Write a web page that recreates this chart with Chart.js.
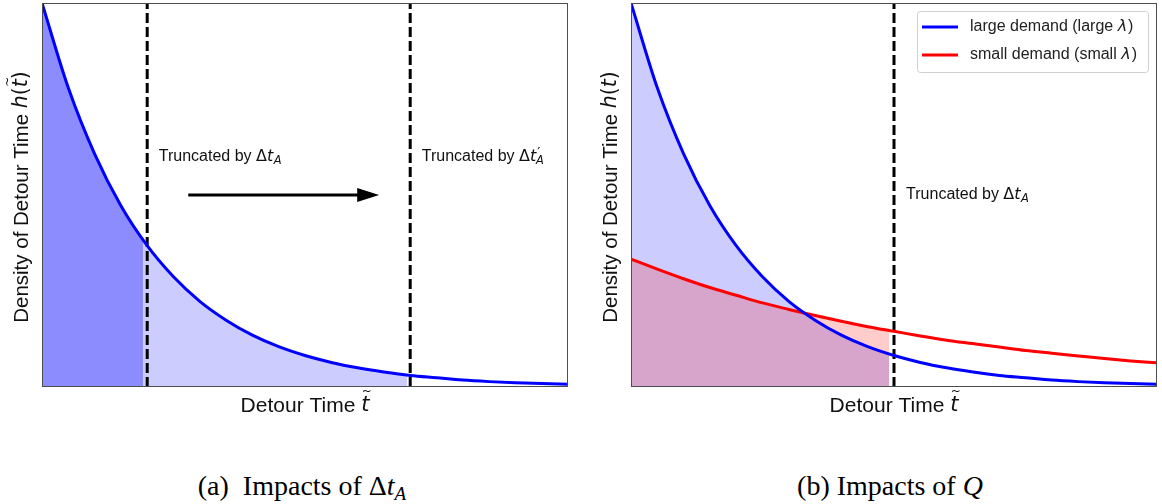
<!DOCTYPE html>
<html><head><meta charset="utf-8">
<script src="https://cdn.jsdelivr.net/npm/chart.js@4"></script>
<style>
html,body{margin:0;padding:0;background:#fff;width:1162px;height:504px;overflow:hidden;}
#ca{position:absolute;left:0;top:0;}
#cb{position:absolute;left:600px;top:0;}
.cap{position:absolute;top:470px;font-family:"Liberation Serif","Times New Roman",serif;font-size:28px;color:#000;white-space:nowrap;transform:translateX(-50%);}
.cap sub{font-size:19px;vertical-align:-5px;line-height:0;}
</style></head><body>
<canvas id="ca" width="600" height="420"></canvas>
<canvas id="cb" width="562" height="420"></canvas>
<div class="cap" style="left:302px">(a)&nbsp; Impacts of Δ<i>t</i><sub><i>A</i></sub></div>
<div class="cap" style="left:890px">(b) Impacts of <i>Q</i></div>
<script>
// ---- data ----
const detourTime  = [0,0.5,1,1.5,2,2.5,3,3.5,4,4.5,5,5.5,6,6.5,7,7.5,8,8.5,9,9.5,10];
const largeDemand = [1.000,0.779,0.607,0.472,0.368,0.287,0.223,0.174,0.135,0.105,0.082,0.064,0.050,0.039,0.030,0.024,0.018,0.014,0.011,0.009,0.007];
const smallDemand = [0.333,0.307,0.282,0.259,0.239,0.219,0.202,0.186,0.171,0.157,0.145,0.133,0.122,0.113,0.104,0.095,0.088,0.081,0.074,0.068,0.063];
const seriesLabels = ["large demand (large λ)", "small demand (small λ)"];
// truncation thresholds (dashed lines) and where the shading stops
const truncA = 2.0, truncA2 = 7.0, truncB = 5.0;
const shadeA = [1.92, 0.383];     // [x, large-demand value]
const shadeA2 = [6.94, 0.031];
const shadeBLarge = [4.91, 0.085];
const shadeBSmall = [4.91, 0.146];
const arrowFrom = [2.78, 0.5], arrowTo = [6.41, 0.5];
const noteA  = [2.22, 0.60], noteA2 = [7.22, 0.60], noteB = [5.23, 0.50];

function pts(xs, ys){ return xs.map((x,i)=>({x:x, y:ys[i]})); }
function segment(xs, ys, start, end){
  const out = [];
  if (start) out.push({x:start[0], y:start[1]});
  xs.forEach((x,i)=>{ if ((!start || x>start[0]) && (!end || x<end[0])) out.push({x:x,y:ys[i]}); });
  if (end) out.push({x:end[0], y:end[1]});
  return out;
}
function vline(x){ return [{x:x,y:0},{x:x,y:1}]; }

const SANS = '"Liberation Sans", Arial, sans-serif';
const MATH = '"DejaVu Sans", sans-serif';

function richWidth(ctx, parts){
  let w = 0;
  parts.forEach(p=>{ ctx.font = p.f; w += ctx.measureText(p.t).width + (p.dx||0); });
  return w;
}
function drawRich(ctx, parts, x, y, align){
  let cx = x;
  if (align === 'center') cx = x - richWidth(ctx, parts)/2;
  parts.forEach(p=>{
    ctx.font = p.f;
    ctx.fillText(p.t, cx + (p.ox||0), y + (p.dy||0));
    const w = ctx.measureText(p.t).width;
    if (p.tilde){
      ctx.font = p.tf;
      ctx.textAlign = 'center';
      ctx.fillText('~', cx + w/2 + (p.tx||0), y + p.tilde);
      ctx.textAlign = 'left';
    }
    cx += w + (p.dx||0);
  });
}
function truncParts(prime){
  const parts = [
    {t:'Truncated by ', f:'16px '+SANS},
    {t:'Δ', f:'16px '+MATH},
    {t:'t', f:'italic 16px '+MATH, dx:0.5}
  ];
  if (prime) parts.push({t:'′', f:'14px '+MATH, dy:-3, dx:-4, ox:0.5});
  parts.push({t:'A', f:'italic 11.5px '+MATH, dy:4});
  return parts;
}
const xTitle = [
  {t:'Detour Time ', f:'21px '+SANS},
  {t:'t', f:'italic 21px '+MATH, tilde:-14, tf:'12px '+MATH, tx:1.5}
];
const yTitle = [
  {t:'Density of Detour Time ', f:'20.5px '+SANS},
  {t:'h', f:'italic 20.5px '+MATH},
  {t:'(', f:'20.5px '+MATH},
  {t:'t', f:'italic 20.5px '+MATH, tilde:-14, tf:'12px '+MATH, tx:1.5},
  {t:')', f:'20.5px '+MATH}
];

function makeDecor(cfg){
  return {
    id:'decor',
    afterDatasetsDraw(chart){
      const {ctx, chartArea:a, scales:{x, y}} = chart;
      ctx.save();
      ctx.strokeStyle = '#4d4d4d'; ctx.lineWidth = 1;
      ctx.strokeRect(a.left+0.5, a.top+0.5, a.right-a.left-1, a.bottom-a.top-1);
      ctx.fillStyle = '#111';
      ctx.textBaseline = 'middle'; ctx.textAlign = 'left';
      cfg.notes.forEach(n=>{
        drawRich(ctx, truncParts(n.prime), x.getPixelForValue(n.at[0]), y.getPixelForValue(n.at[1]), 'left');
      });
      if (cfg.arrow){
        const x0 = x.getPixelForValue(cfg.arrow[0][0]), y0 = y.getPixelForValue(cfg.arrow[0][1]);
        const x1 = x.getPixelForValue(cfg.arrow[1][0]);
        ctx.strokeStyle = '#000'; ctx.fillStyle = '#000'; ctx.lineWidth = 3;
        ctx.beginPath(); ctx.moveTo(x0, y0); ctx.lineTo(x1-20, y0); ctx.stroke();
        ctx.beginPath(); ctx.moveTo(x1, y0); ctx.lineTo(x1-22, y0-7); ctx.lineTo(x1-22, y0+7); ctx.closePath(); ctx.fill();
      }
      ctx.fillStyle = '#111';
      drawRich(ctx, xTitle, (a.left+a.right)/2, a.bottom+19, 'center');
      ctx.save();
      ctx.translate(a.left-20, (a.top+a.bottom)/2+2);
      ctx.rotate(-Math.PI/2);
      drawRich(ctx, yTitle, 0, 0, 'center');
      ctx.restore();
      if (cfg.legend){
        const L = cfg.legend;
        ctx.fillStyle = 'rgba(255,255,255,0.85)';
        ctx.strokeStyle = '#d0d0d0'; ctx.lineWidth = 1;
        ctx.beginPath();
        if (ctx.roundRect) ctx.roundRect(L.x+0.5, L.y+0.5, L.w, L.h, 3); else ctx.rect(L.x+0.5, L.y+0.5, L.w, L.h);
        ctx.fill(); ctx.stroke();
        L.items.forEach((it,i)=>{
          const yy = L.y + 16 + i*28;
          ctx.strokeStyle = it.color; ctx.lineWidth = 3;
          ctx.beginPath(); ctx.moveTo(L.x+5, yy); ctx.lineTo(L.x+41, yy); ctx.stroke();
          ctx.fillStyle = '#222';
          const idx = it.label.indexOf('λ');
          drawRich(ctx, [
            {t:it.label.slice(0, idx), f:'16px '+SANS},
            {t:'λ', f:'italic 16px '+MATH, dx:1},
            {t:it.label.slice(idx+1), f:'16px '+SANS}
          ], L.x+53, yy, 'left');
        });
      }
      ctx.restore();
    }
  };
}

const lineDefaults = {pointRadius:0, cubicInterpolationMode:'monotone', fill:false};
function fillSet(data, color){
  return Object.assign({}, lineDefaults, {data, borderWidth:0, borderColor:'rgba(0,0,0,0)', backgroundColor:color, fill:'origin', order:3});
}
function dashSet(x){
  return {data:vline(x), borderColor:'#000', borderWidth:3, borderDash:[10,4], pointRadius:0, fill:false, order:1, tension:0};
}
function curveSet(ys, color, label){
  return Object.assign({}, lineDefaults, {label, data:pts(detourTime, ys), borderColor:color, borderWidth:3, order:0});
}
function baseOptions(pad){
  return {
    responsive:false, animation:false, devicePixelRatio:1,
    layout:{padding:pad},
    plugins:{legend:{display:false}, tooltip:{enabled:false}},
    scales:{
      x:{type:'linear', min:0, max:10, display:false},
      y:{type:'linear', min:0, max:1, display:false}
    }
  };
}

new Chart(document.getElementById('ca'), {
  type:'line',
  data:{datasets:[
    curveSet(largeDemand, '#0000ff', seriesLabels[0]),
    dashSet(truncA), dashSet(truncA2),
    fillSet(segment(detourTime, largeDemand, null, shadeA), 'rgba(0,0,255,0.45)'),
    fillSet(segment(detourTime, largeDemand, shadeA, shadeA2), 'rgba(0,0,255,0.2)')
  ]},
  options:baseOptions({left:42, top:3, right:32, bottom:33}),
  plugins:[makeDecor({
    notes:[{at:noteA, prime:false},{at:noteA2, prime:true}],
    arrow:[arrowFrom, arrowTo]
  })]
});

new Chart(document.getElementById('cb'), {
  type:'line',
  data:{datasets:[
    curveSet(largeDemand, '#0000ff', seriesLabels[0]),
    curveSet(smallDemand, '#ff0000', seriesLabels[1]),
    dashSet(truncB),
    fillSet(segment(detourTime, smallDemand, null, shadeBSmall), 'rgba(255,0,0,0.2)'),
    fillSet(segment(detourTime, largeDemand, null, shadeBLarge), 'rgba(0,0,255,0.2)')
  ]},
  options:baseOptions({left:31, top:3, right:5, bottom:33}),
  plugins:[makeDecor({
    notes:[{at:noteB, prime:false}],
    legend:{x:317, y:11, w:231, h:61, items:[
      {label:seriesLabels[0], color:'#0000ff'},
      {label:seriesLabels[1], color:'#ff0000'}
    ]}
  })]
});
</script>
</body></html>
